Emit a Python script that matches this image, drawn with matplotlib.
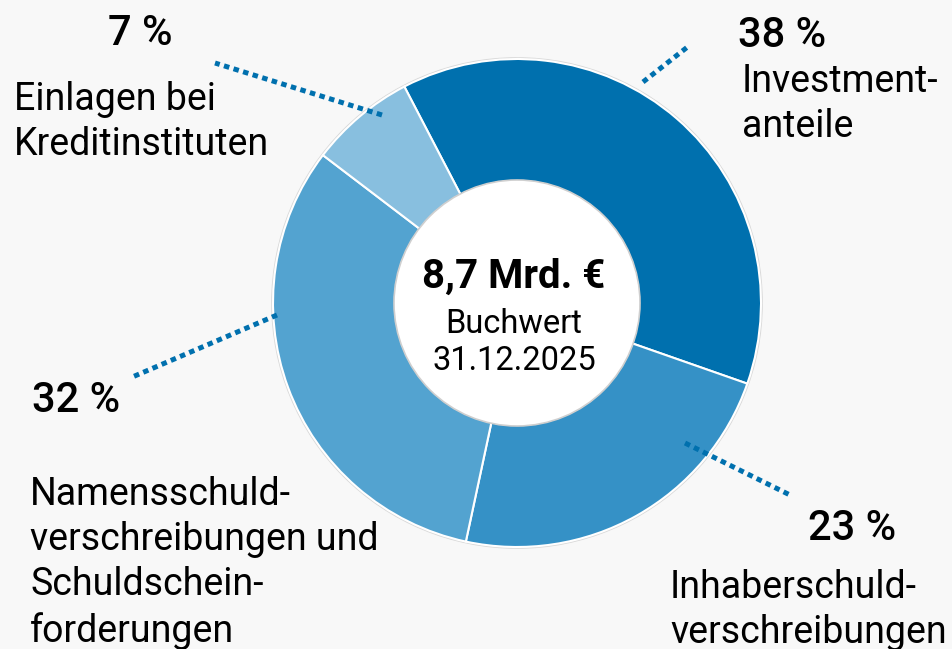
import matplotlib.pyplot as plt
from matplotlib.patches import Circle

plt.rcParams['font.family'] = ['Roboto', 'DejaVu Sans']

# Daten (Anteile am Buchwert, im Uhrzeigersinn ab Investmentanteile)
labels = ['Investment-\nanteile', 'Inhaberschuld-\nverschreibungen',
          'Namensschuld-\nverschreibungen und\nSchuldschein-\nforderungen',
          'Einlagen bei\nKreditinstituten']
shares = [38, 23, 32, 7]
colors = ['#0070ae', '#3591c6', '#53a3d0', '#88bfdf']
center_title = '8,7 Mrd. €'
center_sub = 'Buchwert\n31.12.2025'

W, H = 952, 649
BG = '#f8f8f8'
LINE = '#0070ae'


def py(y):
    # Pixel von oben -> Datenkoordinate von unten
    return H - y


fig = plt.figure(figsize=(W / 100, H / 100), dpi=100, facecolor=BG)
ax = fig.add_axes([0, 0, 1, 1])
ax.set_facecolor(BG)

cx, cy, R = 517, py(303), 244
ax.pie(shares, colors=colors, startangle=117.5, counterclock=False,
       center=(cx, cy), radius=R,
       wedgeprops=dict(width=R * 0.5, edgecolor='white', linewidth=1.5))
ax.add_patch(Circle((cx, cy), R + 1, fill=False, edgecolor='#d8d8d8', linewidth=1.2, zorder=0))
ax.add_patch(Circle((cx, cy), R * 0.5 + 1, facecolor='white', edgecolor='#cfcfcf', linewidth=1.2, zorder=3))

ax.set_xlim(0, W)
ax.set_ylim(0, H)
ax.set_aspect('equal')
ax.axis('off')

# Mitte (va='baseline' bezieht sich bei mehrzeiligem Text auf die letzte Zeile)
ax.text(cx - 3, py(288), center_title, ha='center', va='baseline', fontsize=29,
        fontweight='bold', zorder=4)
ax.text(cx - 3, py(370), center_sub, ha='center', va='baseline', fontsize=23.5,
        linespacing=1.2, zorder=4)

# Führungslinien (gepunktet)
leaders = [((643, 82), (690, 45)),
           ((685, 443), (790, 495)),
           ((277, 315), (130, 378)),
           ((382, 115), (215, 63))]
for (x0, y0), (x1, y1) in leaders:
    ax.plot([x0, x1], [py(y0), py(y1)], color=LINE, linewidth=3.6,
            linestyle=(0, (1.1, 0.9)), solid_capstyle='butt', dash_capstyle='butt')

# Prozentwerte und Beschriftungen (Grundlinie der letzten Zeile)
pct_pos = [(738, 47), (808, 540), (32, 412), (108, 45)]
lab_pos = [(742, 137), (670, 643), (30, 642), (14, 155)]
for s, lab, (px_, py_), (lx, ly) in zip(shares, labels, pct_pos, lab_pos):
    ax.text(px_, py(py_), f'{s} %', ha='left', va='baseline', fontsize=30,
            fontweight='medium')
    ax.text(lx, py(ly), lab, ha='left', va='baseline', fontsize=27,
            linespacing=1.29)

fig.savefig('out.png', dpi=100, facecolor=BG)
